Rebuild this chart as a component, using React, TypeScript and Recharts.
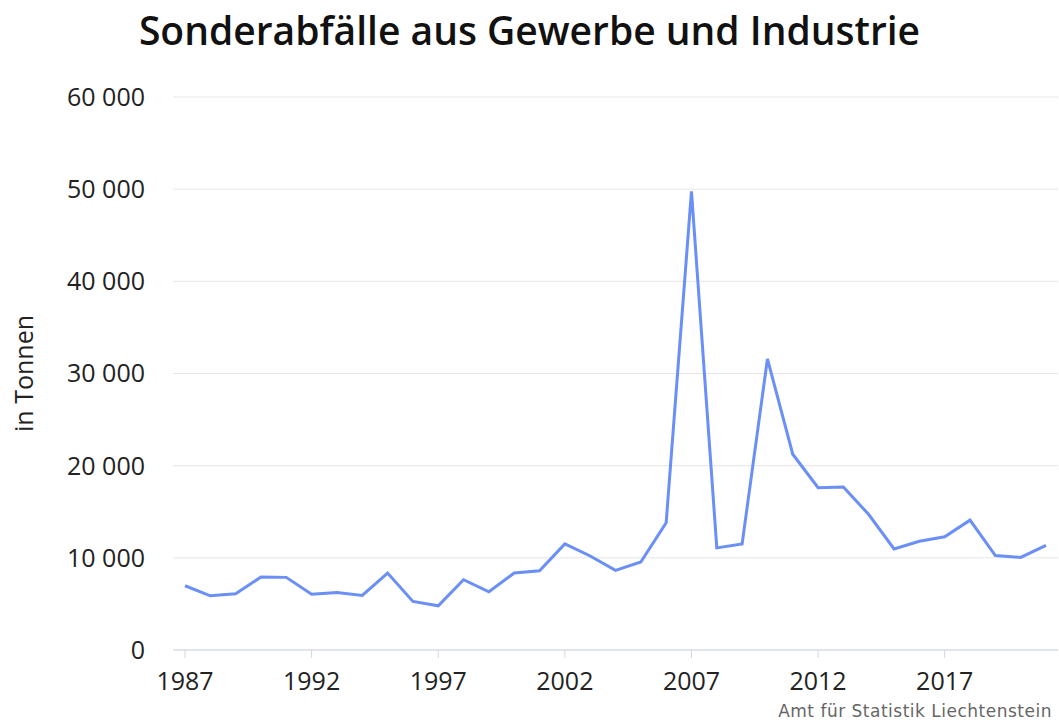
import { CartesianGrid, Label, Line, LineChart, XAxis, YAxis } from "recharts";

const years = [
  1987, 1988, 1989, 1990, 1991, 1992, 1993, 1994, 1995, 1996, 1997, 1998,
  1999, 2000, 2001, 2002, 2003, 2004, 2005, 2006, 2007, 2008, 2009, 2010,
  2011, 2012, 2013, 2014, 2015, 2016, 2017, 2018, 2019, 2020, 2021,
];

const tonnes = [
  6970, 5880, 6100, 7920, 7880, 6060, 6240, 5920, 8350, 5270, 4790, 7620,
  6320, 8350, 8600, 11510, 10200, 8640, 9550, 13800, 49750, 11080, 11510, 31590,
  21240, 17610, 17680, 14700, 10970, 11800, 12280, 14090, 10240, 10050, 11360,
];

const xTicks = [1987, 1992, 1997, 2002, 2007, 2012, 2017];
const yTicks = [0, 10000, 20000, 30000, 40000, 50000, 60000];

const data = years.map((year, i) => ({ year, value: tonnes[i] }));

const fmt = (v: number) => String(v).replace(/\B(?=(\d{3})+(?!\d))/g, " ");

const font = "'Open Sans', sans-serif";

export default function App() {
  return (
    <div style={{ position: "absolute", left: 0, top: 0, width: 1059, height: 722, background: "#fff" }}>
      <div
        style={{
          position: "absolute",
          top: 10,
          left: 0,
          width: 1059,
          textAlign: "center",
          fontFamily: font,
          fontSize: 39,
          fontWeight: 600,
          color: "#111",
          lineHeight: "40px",
        }}
      >
        Sonderabfälle aus Gewerbe und Industrie
      </div>
      <LineChart width={1059} height={722} data={data} margin={{ top: 97, right: 1, left: 0, bottom: 0 }}>
        <CartesianGrid vertical={false} stroke="#e6e6e6" />
        <XAxis
          dataKey="year"
          type="number"
          domain={[1987, 2021]}
          ticks={xTicks}
          padding={{ left: 12, right: 12 }}
          height={72}
          tickSize={8}
          tickMargin={14}
          stroke="#ccd6eb"
          tick={{ fill: "#222", fontSize: 25, fontFamily: font }}
        />
        <YAxis
          domain={[0, 60000]}
          ticks={yTicks}
          width={173}
          tickFormatter={fmt}
          axisLine={false}
          tickLine={false}
          tickMargin={22}
          tick={{ fill: "#222", fontSize: 25, fontFamily: font }}
        >
          <Label
            value="in Tonnen"
            angle={-90}
            position="insideLeft"
            offset={24}
            style={{ textAnchor: "middle", fill: "#222", fontSize: 25, fontFamily: font }}
          />
        </YAxis>
        <Line
          type="linear"
          dataKey="value"
          stroke="#6a8ff7"
          strokeWidth={3}
          dot={false}
          isAnimationActive={false}
        />
      </LineChart>
      <div
        style={{
          position: "absolute",
          right: 7,
          top: 701,
          fontFamily: "'DejaVu Sans', sans-serif",
          fontSize: 17,
          letterSpacing: 0.5,
          color: "#666",
          lineHeight: "20px",
        }}
      >
        Amt für Statistik Liechtenstein
      </div>
    </div>
  );
}
